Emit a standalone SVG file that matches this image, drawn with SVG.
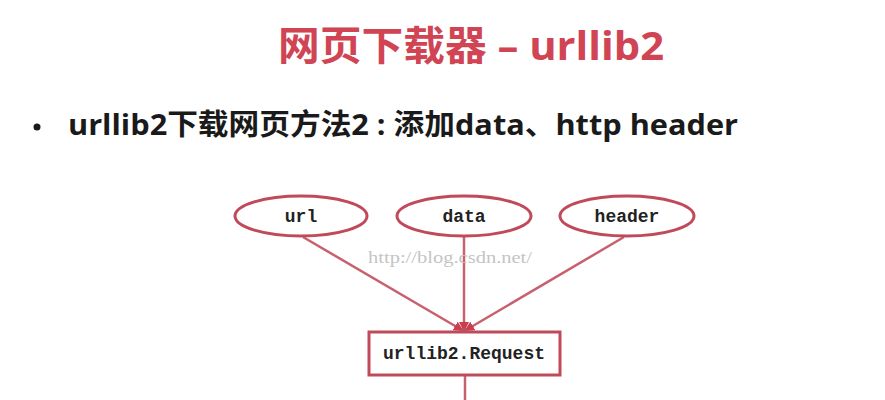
<svg xmlns="http://www.w3.org/2000/svg" width="885" height="400" viewBox="0 0 885 400">
<style>
.title{font-family:"Open Sans","Noto Sans CJK SC",sans-serif;font-weight:bold;font-size:40px;fill:#d04454}
.sub{font-family:"Open Sans","Noto Sans CJK SC",sans-serif;font-weight:bold;font-size:29px;fill:#1a1a1a}
.node{fill:#ffffff;stroke:#c04a5a;stroke-width:3}
.lbl{font-family:"Liberation Mono",monospace;font-weight:bold;font-size:18px;fill:#222;text-anchor:middle}
.edge{stroke:#c8606e;stroke-width:2.5;fill:none}
.wm{font-family:"Liberation Serif",serif;font-size:16px;fill:#c4c4c4}
</style>
<defs>
<marker id="arr" markerWidth="10" markerHeight="10" refX="8" refY="5" orient="auto" markerUnits="userSpaceOnUse">
<path d="M0,0 L10,5 L0,10 z" fill="#c8404f"/>
</marker>
</defs>
<rect width="885" height="400" fill="#ffffff"/>
<text class="title" x="278" y="60" textLength="386" lengthAdjust="spacingAndGlyphs">网页下载器 – urllib2</text>
<circle cx="37" cy="127" r="3.5" fill="#1a1a1a"/>
<text class="sub" x="68" y="135" textLength="670" lengthAdjust="spacingAndGlyphs">urllib2下载网页方法2 : 添加data、http header</text>
<g id="connectors">
<line class="edge" x1="303" y1="237" x2="462" y2="330" marker-end="url(#arr)"/>
<line class="edge" x1="464" y1="237" x2="464" y2="330" marker-end="url(#arr)"/>
<line class="edge" x1="624" y1="237" x2="466" y2="330" marker-end="url(#arr)"/>
<line class="edge" x1="465" y1="376" x2="465" y2="400"/>
</g>
<text class="wm" x="368" y="263" textLength="164" lengthAdjust="spacingAndGlyphs">http://blog.csdn.net/</text>
<g id="url"><ellipse class="node" cx="301" cy="216" rx="66" ry="20"/><text class="lbl" x="301" y="222">url</text></g>
<g id="data"><ellipse class="node" cx="464" cy="216" rx="67" ry="20"/><text class="lbl" x="464" y="222">data</text></g>
<g id="header"><ellipse class="node" cx="627" cy="216" rx="67" ry="20"/><text class="lbl" x="627" y="222">header</text></g>
<g id="request"><rect class="node" x="369" y="332" width="191" height="43"/><text class="lbl" x="464" y="359">urllib2.Request</text></g>
</svg>
